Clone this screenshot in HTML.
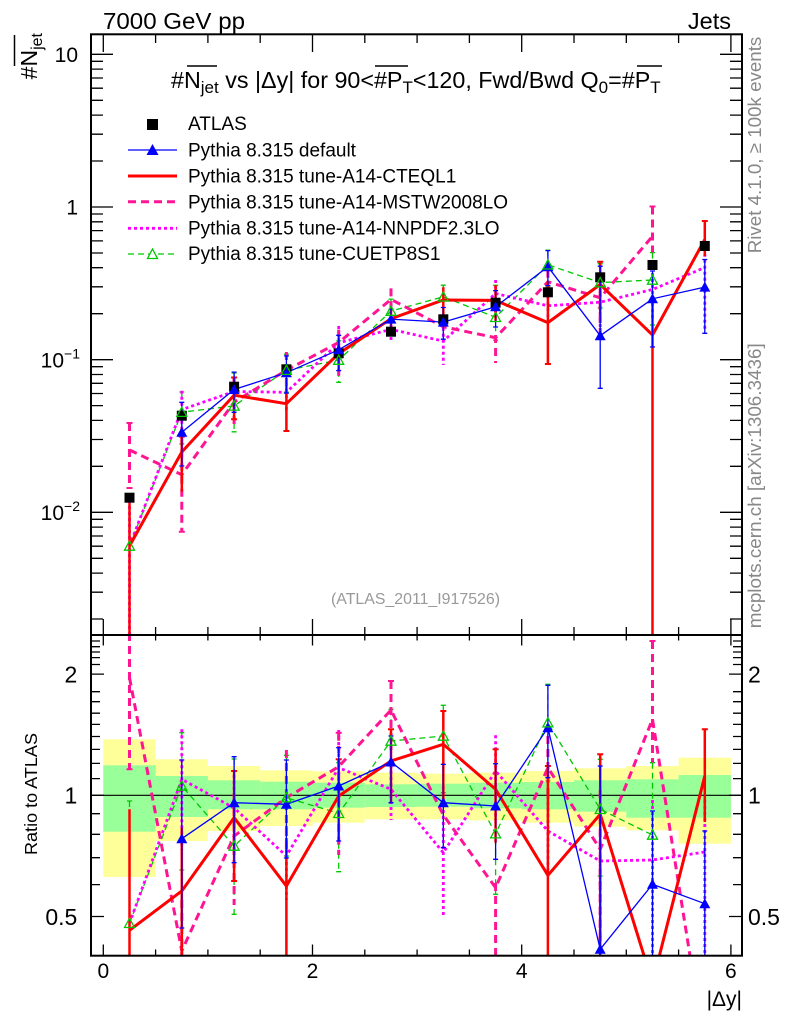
<!DOCTYPE html>
<html><head><meta charset="utf-8"><style>
html,body{margin:0;padding:0;background:#fff;}
svg{display:block;font-family:"Liberation Sans",Arial,sans-serif;}
</style></head><body>
<svg width="786" height="1024" viewBox="0 0 786 1024" xmlns="http://www.w3.org/2000/svg">
<defs>
<clipPath id="cm"><rect x="92" y="35" width="649" height="600"/></clipPath>
<clipPath id="cr"><rect x="92" y="635" width="649" height="320"/></clipPath>
<path id="tb" d="M-5.5,4.5 L5.5,4.5 L0,-5.5Z" fill="#0000ff"/>
<path id="tg" d="M-5,4.2 L5,4.2 L0,-5Z" fill="none" stroke="#00c800" stroke-width="1.3"/>
<rect id="sq" x="-5" y="-5" width="10" height="10" fill="#000"/>
</defs>
<rect width="786" height="1024" fill="#fff"/>

<!-- top texts -->
<text x="103" y="29" font-size="23.5" textLength="142" lengthAdjust="spacingAndGlyphs">7000 GeV pp</text>
<text x="731" y="29" font-size="23.5" text-anchor="end">Jets</text>

<!-- y label -->
<text transform="translate(37,33) rotate(-90)" text-anchor="end" font-size="23">#N<tspan font-size="16" dy="5">jet</tspan></text>
<line x1="14.5" y1="35" x2="14.5" y2="66" stroke="#000" stroke-width="1.5"/>

<!-- right side texts -->
<text transform="translate(761,253.3) rotate(-90)" font-size="18.5" fill="#888" textLength="216.6" lengthAdjust="spacingAndGlyphs">Rivet 4.1.0, ≥ 100k events</text>
<text transform="translate(761,628.3) rotate(-90)" font-size="18.5" fill="#888" textLength="285" lengthAdjust="spacingAndGlyphs">mcplots.cern.ch [arXiv:1306.3436]</text>

<!-- ratio bands -->
<g fill="#ffff99">
<rect x="103.3" y="739.3" width="52.3" height="137.7"/>
<rect x="155.6" y="759.3" width="52.3" height="81.7"/>
<rect x="207.9" y="766" width="52.3" height="65"/>
<rect x="260.2" y="770.3" width="52.3" height="55.7"/>
<rect x="312.5" y="771.3" width="52.3" height="51.4"/>
<rect x="364.8" y="772.7" width="52.3" height="46.6"/>
<rect x="417.1" y="773.7" width="52.3" height="45.6"/>
<rect x="469.4" y="772.7" width="52.3" height="47.6"/>
<rect x="521.7" y="771" width="52.3" height="51.7"/>
<rect x="574" y="768.3" width="52.3" height="58.4"/>
<rect x="626.3" y="766" width="52.3" height="64.3"/>
<rect x="678.6" y="757.7" width="52.3" height="86"/>
</g>
<g fill="#99ff99">
<rect x="103.3" y="765.3" width="52.3" height="66.4"/>
<rect x="155.6" y="776" width="52.3" height="41"/>
<rect x="207.9" y="780.3" width="52.3" height="29"/>
<rect x="260.2" y="781.7" width="52.3" height="27.6"/>
<rect x="312.5" y="782.7" width="52.3" height="25"/>
<rect x="364.8" y="784.3" width="52.3" height="22.7"/>
<rect x="417.1" y="783.7" width="52.3" height="23"/>
<rect x="469.4" y="782.7" width="52.3" height="25.6"/>
<rect x="521.7" y="782" width="52.3" height="27.3"/>
<rect x="574" y="780.3" width="52.3" height="31.4"/>
<rect x="626.3" y="779.3" width="52.3" height="38.4"/>
<rect x="678.6" y="775" width="52.3" height="42.7"/>
</g>
<line x1="92" y1="795.3" x2="741" y2="795.3" stroke="#000" stroke-width="1.2"/>

<!-- MAIN PANEL SERIES -->
<g clip-path="url(#cm)" fill="none">
<!-- green dashed -->
<g stroke="#00c800" stroke-width="1.3" stroke-dasharray="6,4">
<path d="M129.5,546 L181.8,412.2 L234.1,405.9 L286.4,370.2 L338.7,360.1 L391,311.1 L443.3,296.8 L495.6,317.3 L547.9,264.8 L600.2,282.6 L652.5,280"/>
<path d="M129.5,499.9V640 M179.3,392h5M181.8,392V444M179.3,444h5 M231.6,373h5M234.1,373V431.8M231.6,431.8h5 M283.9,354.1h5M286.4,354.1V392.3M283.9,392.3h5 M336.2,340.9h5M338.7,340.9V382.3M336.2,382.3h5 M388.5,299.1h5M391,299.1V334.5M388.5,334.5h5 M440.8,285.2h5M443.3,285.2V318.3M440.8,318.3h5 M493.1,285.3h5M495.6,285.3V340.2M493.1,340.2h5 M545.4,250.2h5M547.9,250.2V286.9M545.4,286.9h5 M597.7,263.7h5M600.2,263.7V307.9M597.7,307.9h5 M650,252.6h5M652.5,252.6V325M650,325h5"/>
</g>
<!-- magenta dotted -->
<g stroke="#ff00ff" stroke-width="2.8" stroke-dasharray="3,3">
<path d="M129.5,546 L181.8,409.6 L234.1,391.5 L286.4,392.3 L338.7,342.8 L391,329.4 L443.3,341.1 L495.6,293.5 L547.9,305.8 L600.2,302.2 L652.5,289.5 L704.8,267.5"/>
<path d="M129.5,500V640 M181.8,390.7V436.5 M234.1,377V403 M286.4,383V413 M338.7,326V355 M391,319V341 M443.3,315.8V365 M495.6,280V312 M547.9,290V320 M600.2,294V330 M652.5,267V320 M704.8,247.8V330"/>
</g>
<!-- pink dashed -->
<g stroke="#ff1493" stroke-width="3" stroke-dasharray="8,5">
<path d="M129.5,450 L181.8,474.7 L234.1,402.1 L286.4,370.2 L338.7,342.5 L391,299.4 L443.3,326.8 L495.6,337.7 L547.9,281.8 L600.2,297.8 L652.5,236.2"/>
<path d="M129.5,423V488 M181.8,436.7V531.7 M234.1,377V428 M286.4,352V390 M338.7,329.6V375.9 M391,288.4V314.5 M495.6,335V363 M547.9,269.8V294 M600.2,276V335 M652.5,206.5V252.6"/>
</g>
<g stroke="#ff1493" stroke-width="2">
<path d="M126.5,423h6M126.5,488h6 M178.8,436.7h6M178.8,531.7h6 M649.5,206.5h6"/>
</g>
<!-- red -->
<g stroke="#ff0000" stroke-width="3" stroke-linejoin="miter">
<path d="M129.5,546 L181.8,452 L234.1,395.2 L286.4,403.7 L338.7,353.6 L391,318.7 L443.3,300 L495.6,300.4 L547.9,322.6 L600.2,284.5 L652.5,335 L704.8,239.5"/>
</g>
<g stroke="#ff0000" stroke-width="2.5">
<path d="M129.5,503V640 M181.8,428V491.7 M234.1,377.5V419.2 M286.4,386V431 M338.7,339.7V370.6 M391,306.7V334.5 M443.3,287.3V322.7 M495.6,285.3V320.7 M547.9,281.2V364 M600.2,261.8V315 M652.5,300V640 M704.8,221V256.1"/>
<path stroke-width="2" d="M283.4,431h6 M544.9,364h6 M597.2,261.8h6 M701.8,221h6 M231.1,377.5h6 M231.1,419.2h6"/>
</g>
<!-- blue -->
<g stroke="#0000ff" stroke-width="1.3">
<path d="M181.8,432.2 L234.1,389.5 L286.4,372.7 L338.7,349.8 L391,319.1 L443.3,322.1 L495.6,306.8 L547.9,266.7 L600.2,335.7 L652.5,298.8 L704.8,287.1"/>
<path d="M179.3,402.3h5M181.8,402.3V466M179.3,466h5 M231.6,372.1h5M234.1,372.1V412.3M231.6,412.3h5 M283.9,355.9h5M286.4,355.9V393.1M283.9,393.1h5 M336.2,335.3h5M338.7,335.3V370.6M336.2,370.6h5 M388.5,309.2h5M391,309.2V334.5M388.5,334.5h5 M440.8,307.5h5M443.3,307.5V339.2M440.8,339.2h5 M493.1,290.7h5M495.6,290.7V327M493.1,327h5 M545.4,250.6h5M547.9,250.6V285.6M545.4,285.6h5 M597.7,266.2h5M600.2,266.2V388.3M597.7,388.3h5 M650,271h5M652.5,271V347M650,347h5 M702.3,259.5h5M704.8,259.5V333.3M702.3,333.3h5"/>
</g>
<!-- data squares -->
<use href="#sq" x="129.5" y="497.7"/><use href="#sq" x="181.8" y="415.7"/><use href="#sq" x="234.1" y="386.7"/><use href="#sq" x="286.4" y="369.3"/><use href="#sq" x="338.7" y="353.3"/><use href="#sq" x="391" y="331.7"/><use href="#sq" x="443.3" y="319.3"/><use href="#sq" x="495.6" y="302.7"/><use href="#sq" x="547.9" y="292.3"/><use href="#sq" x="600.2" y="277.3"/><use href="#sq" x="652.5" y="265"/><use href="#sq" x="704.8" y="246"/>
<!-- blue triangles -->
<use href="#tb" x="181.8" y="432.2"/><use href="#tb" x="234.1" y="389.5"/><use href="#tb" x="286.4" y="372.7"/><use href="#tb" x="338.7" y="349.8"/><use href="#tb" x="391" y="319.1"/><use href="#tb" x="443.3" y="322.1"/><use href="#tb" x="495.6" y="306.8"/><use href="#tb" x="547.9" y="266.7"/><use href="#tb" x="600.2" y="335.7"/><use href="#tb" x="652.5" y="298.8"/><use href="#tb" x="704.8" y="287.1"/>
<!-- green triangles -->
<use href="#tg" x="129.5" y="546"/><use href="#tg" x="181.8" y="412.2"/><use href="#tg" x="234.1" y="405.9"/><use href="#tg" x="286.4" y="370.2"/><use href="#tg" x="338.7" y="360.1"/><use href="#tg" x="391" y="311.1"/><use href="#tg" x="443.3" y="296.8"/><use href="#tg" x="495.6" y="317.3"/><use href="#tg" x="547.9" y="264.8"/><use href="#tg" x="600.2" y="282.6"/><use href="#tg" x="652.5" y="280"/>
</g>

<!-- RATIO PANEL SERIES -->
<g clip-path="url(#cr)" fill="none">
<g stroke="#00c800" stroke-width="1.3" stroke-dasharray="6,4">
<path d="M129.5,923.3 L181.8,786 L234.1,846 L286.4,797.7 L338.7,813.3 L391,741 L443.3,736 L495.6,833.7 L547.9,722.7 L600.2,809.3 L652.5,835"/>
<path d="M127,801h5M129.5,801V960 M179.3,732.7h5M181.8,732.7V870M179.3,870h5 M231.6,759h5M234.1,759V914.3M231.6,914.3h5 M283.9,755.3h5M286.4,755.3V856M283.9,856h5 M336.2,762.7h5M338.7,762.7V871.7M336.2,871.7h5 M388.5,709.3h5M391,709.3V802.7M388.5,802.7h5 M440.8,705.3h5M443.3,705.3V792.7M440.8,792.7h5 M493.1,749.3h5M495.6,749.3V894.3M493.1,894.3h5 M545.4,684.3h5M547.9,684.3V781M545.4,781h5 M597.7,759.3h5M600.2,759.3V876M597.7,876h5 M650,762.7h5M652.5,762.7V960"/>
</g>
<g stroke="#ff00ff" stroke-width="2.8" stroke-dasharray="3,3">
<path d="M129.5,923.3 L181.8,779.3 L234.1,808 L286.4,856 L338.7,767.7 L391,789.3 L443.3,852.7 L495.6,771 L547.9,831 L600.2,861 L652.5,860 L704.8,852"/>
<path d="M181.8,729.3V850 M234.1,775V840 M286.4,820V900 M338.7,730V800 M391,765V820 M443.3,786V916 M495.6,735.3V820 M547.9,790V870 M600.2,840V940 M652.5,800V960 M704.8,800V960"/>
</g>
<g stroke="#ff1493" stroke-width="3" stroke-dasharray="8,5">
<path d="M129.5,677.7 L181.8,951 L234.1,836 L286.4,797.7 L338.7,766.7 L391,710 L443.3,815 L495.6,887.7 L547.9,767.7 L600.2,849.3 L652.5,719.3 L704.8,1049"/>
<path d="M129.5,620V769.3 M181.8,900V960 M234.1,795V905 M286.4,750V850 M338.7,732.7V855 M391,681V750 M495.6,883V960 M547.9,736V800 M600.2,790V945 M652.5,641V762.7"/>
</g>
<g stroke="#ff1493" stroke-width="2">
<path d="M126.5,769.3h6 M649.5,641h6 M335.7,732.7h6 M388,681h6"/>
</g>
<g stroke="#ff0000" stroke-width="3">
<path d="M129.5,930.3 L181.8,891 L234.1,817.7 L286.4,886 L338.7,796 L391,761 L443.3,744.3 L495.6,789.3 L547.9,875.3 L600.2,814.3 L652.5,983 L704.8,776"/>
</g>
<g stroke="#ff0000" stroke-width="2.5">
<path d="M129.5,809.3V960 M181.8,827.7V960 M234.1,771V881 M286.4,839.3V960 M338.7,759.3V841 M391,729.3V802.7 M443.3,711V804.3 M495.6,749.3V842.7 M547.9,766V960 M600.2,754.3V960 M704.8,729.3V822"/>
<path stroke-width="2" d="M231.1,771h6 M231.1,881h6 M335.7,759.3h6 M388,729.3h6 M440.3,711h6 M492.6,749.3h6 M597.2,754.3h6 M701.8,729.3h6 M544.9,766h6"/>
</g>
<g stroke="#0000ff" stroke-width="1.3">
<path d="M181.8,838.7 L234.1,802.7 L286.4,804.3 L338.7,786 L391,762 L443.3,802.7 L495.6,806 L547.9,727.7 L600.2,949.3 L652.5,884.3 L704.8,903.7"/>
<path d="M179.3,760h5M181.8,760V928M179.3,928h5 M231.6,756.7h5M234.1,756.7V862.7M231.6,862.7h5 M283.9,760h5M286.4,760V858M283.9,858h5 M336.2,747.7h5M338.7,747.7V841M336.2,841h5 M388.5,736h5M391,736V802.7M388.5,802.7h5 M440.8,764.3h5M443.3,764.3V847.7M440.8,847.7h5 M493.1,763.7h5M495.6,763.7V859.3M493.1,859.3h5 M545.4,685.3h5M547.9,685.3V777.7M545.4,777.7h5 M597.7,766h5M600.2,766V960 M650,811h5M652.5,811V960 M702.3,831h5M704.8,831V960"/>
</g>
<use href="#tb" x="181.8" y="838.7"/><use href="#tb" x="234.1" y="802.7"/><use href="#tb" x="286.4" y="804.3"/><use href="#tb" x="338.7" y="786"/><use href="#tb" x="391" y="762"/><use href="#tb" x="443.3" y="802.7"/><use href="#tb" x="495.6" y="806"/><use href="#tb" x="547.9" y="727.7"/><use href="#tb" x="600.2" y="949.3"/><use href="#tb" x="652.5" y="884.3"/><use href="#tb" x="704.8" y="903.7"/>
<use href="#tg" x="129.5" y="923.3"/><use href="#tg" x="181.8" y="786"/><use href="#tg" x="234.1" y="846"/><use href="#tg" x="286.4" y="797.7"/><use href="#tg" x="338.7" y="813.3"/><use href="#tg" x="391" y="741"/><use href="#tg" x="443.3" y="736"/><use href="#tg" x="495.6" y="833.7"/><use href="#tg" x="547.9" y="722.7"/><use href="#tg" x="600.2" y="809.3"/><use href="#tg" x="652.5" y="835"/>
</g>

<!-- frames -->
<rect x="91" y="34.3" width="651" height="600.7" fill="none" stroke="#000" stroke-width="2"/>
<rect x="91" y="635" width="651" height="320.7" fill="none" stroke="#000" stroke-width="2"/>

<!-- main y ticks -->
<g stroke="#000" stroke-width="1.3">
<path d="M92,54.3h21 M92,207h21 M92,359.7h21 M92,512.3h21
M92,61.3h11 M92,69.1h11 M92,78h11 M92,88.2h11 M92,100.3h11 M92,115.1h11 M92,134.2h11 M92,161h11
M92,214h11 M92,221.8h11 M92,230.6h11 M92,240.9h11 M92,253h11 M92,267.7h11 M92,286.8h11 M92,313.7h11
M92,366.7h11 M92,374.5h11 M92,383.3h11 M92,393.5h11 M92,405.6h11 M92,420.4h11 M92,439.5h11 M92,466.3h11
M92,519.3h11 M92,527.1h11 M92,536h11 M92,546.2h11 M92,558.3h11 M92,573.1h11 M92,592.2h11 M92,619h11"/>
<path d="M741,54.3h-21 M741,207h-21 M741,359.7h-21 M741,512.3h-21
M741,61.3h-11 M741,69.1h-11 M741,78h-11 M741,88.2h-11 M741,100.3h-11 M741,115.1h-11 M741,134.2h-11 M741,161h-11
M741,214h-11 M741,221.8h-11 M741,230.6h-11 M741,240.9h-11 M741,253h-11 M741,267.7h-11 M741,286.8h-11 M741,313.7h-11
M741,366.7h-11 M741,374.5h-11 M741,383.3h-11 M741,393.5h-11 M741,405.6h-11 M741,420.4h-11 M741,439.5h-11 M741,466.3h-11
M741,519.3h-11 M741,527.1h-11 M741,536h-11 M741,546.2h-11 M741,558.3h-11 M741,573.1h-11 M741,592.2h-11 M741,619h-11"/>
<!-- ratio y ticks -->
<path d="M92,674.1h12 M92,795.3h12 M92,916.5h12
M92,641h8 M92,646.7h8 M92,652h8 M92,657.6h8 M92,664.5h8 M92,691.7h8 M92,701.7h8 M92,713.2h8 M92,724.4h8 M92,736.5h8 M92,749.4h8 M92,763.4h8 M92,778.6h8 M92,813.7h8 M92,834.3h8 M92,857.7h8 M92,884.6h8"/>
<path d="M741,674.1h-12 M741,795.3h-12 M741,916.5h-12
M741,641h-8 M741,646.7h-8 M741,652h-8 M741,657.6h-8 M741,664.5h-8 M741,691.7h-8 M741,701.7h-8 M741,713.2h-8 M741,724.4h-8 M741,736.5h-8 M741,749.4h-8 M741,763.4h-8 M741,778.6h-8 M741,813.7h-8 M741,834.3h-8 M741,857.7h-8 M741,884.6h-8"/>
<!-- x ticks main bottom / top -->
<path d="M103.3,635v-16 M312.5,635v-16 M521.7,635v-16 M730.9,635v-16
M155.6,635v-8 M207.9,635v-8 M260.2,635v-8 M364.8,635v-8 M417.1,635v-8 M469.4,635v-8 M574,635v-8 M626.3,635v-8 M678.6,635v-8"/>
<path d="M103.3,35v17 M312.5,35v17 M521.7,35v17 M730.9,35v17
M155.6,35v8 M207.9,35v8 M260.2,35v8 M364.8,35v8 M417.1,35v8 M469.4,35v8 M574,35v8 M626.3,35v8 M678.6,35v8"/>
<!-- x ticks ratio -->
<path d="M103.3,635v10.5 M312.5,635v10.5 M521.7,635v10.5 M730.9,635v10.5
M155.6,635v5.5 M207.9,635v5.5 M260.2,635v5.5 M364.8,635v5.5 M417.1,635v5.5 M469.4,635v5.5 M574,635v5.5 M626.3,635v5.5 M678.6,635v5.5"/>
<path d="M103.3,955v-10.5 M312.5,955v-10.5 M521.7,955v-10.5 M730.9,955v-10.5
M155.6,955v-5.5 M207.9,955v-5.5 M260.2,955v-5.5 M364.8,955v-5.5 M417.1,955v-5.5 M469.4,955v-5.5 M574,955v-5.5 M626.3,955v-5.5 M678.6,955v-5.5"/>
</g>

<!-- main y labels -->
<g font-size="21" text-anchor="end">
<text x="78" y="62">10</text>
<text x="78" y="214.5">1</text>
<text x="80" y="367.5">10<tspan font-size="14" dy="-9">−1</tspan></text>
<text x="80" y="520">10<tspan font-size="14" dy="-9">−2</tspan></text>
</g>
<!-- ratio labels -->
<g font-size="23" text-anchor="end">
<text x="77.3" y="682.5">2</text>
<text x="77.3" y="803.7">1</text>
<text x="77.3" y="924.9">0.5</text>
</g>
<g font-size="23">
<text x="748" y="682.5">2</text>
<text x="748" y="803.7">1</text>
<text x="748" y="924.9">0.5</text>
</g>
<text transform="translate(37,855) rotate(-90)" font-size="17.7" textLength="122" lengthAdjust="spacingAndGlyphs">Ratio to ATLAS</text>
<!-- x labels -->
<g font-size="21" text-anchor="middle">
<text x="103.3" y="978">0</text>
<text x="312.5" y="978">2</text>
<text x="521.7" y="978">4</text>
<text x="730.9" y="978">6</text>
</g>
<text x="742" y="1006" font-size="21" text-anchor="end">|Δy|</text>

<!-- title -->
<text x="171" y="88" font-size="23.3">#N<tspan font-size="17" dy="5">jet</tspan><tspan dy="-5"> vs |Δy| for 90&lt;#P</tspan><tspan font-size="17" dy="5">T</tspan><tspan dy="-5">&lt;120, Fwd/Bwd Q</tspan><tspan font-size="17" dy="5">0</tspan><tspan dy="-5">=#P</tspan><tspan font-size="17" dy="5">T</tspan></text>
<g stroke="#000" stroke-width="1.5">
<line x1="187" y1="66" x2="217" y2="66"/>
<line x1="375" y1="66" x2="408" y2="66"/>
<line x1="637" y1="66" x2="662" y2="66"/>
</g>

<!-- legend -->
<rect x="147" y="119" width="11" height="11" fill="#000"/>
<line x1="128" y1="150" x2="177" y2="150" stroke="#0000ff" stroke-width="1.3"/>
<path d="M146.5,155 L158.5,155 L152.5,144Z" fill="#0000ff"/>
<line x1="128" y1="176" x2="177" y2="176" stroke="#ff0000" stroke-width="3"/>
<line x1="128" y1="201.7" x2="177" y2="201.7" stroke="#ff1493" stroke-width="3" stroke-dasharray="8,5"/>
<line x1="128" y1="228.3" x2="177" y2="228.3" stroke="#ff00ff" stroke-width="2.8" stroke-dasharray="3,3"/>
<line x1="128" y1="254" x2="177" y2="254" stroke="#00c800" stroke-width="1.3" stroke-dasharray="6,4"/>
<path d="M147.5,258.5 L157.5,258.5 L152.5,249Z" fill="#fff" stroke="#00c800" stroke-width="1.3"/>
<g font-size="19">
<text x="188" y="130">ATLAS</text>
<text x="188" y="156.7">Pythia 8.315 default</text>
<text x="188" y="182.7">Pythia 8.315 tune-A14-CTEQL1</text>
<text x="188" y="208.3">Pythia 8.315 tune-A14-MSTW2008LO</text>
<text x="188" y="234.3">Pythia 8.315 tune-A14-NNPDF2.3LO</text>
<text x="188" y="260">Pythia 8.315 tune-CUETP8S1</text>
</g>

<text x="331" y="604" font-size="15.5" fill="#999" textLength="169" lengthAdjust="spacingAndGlyphs">(ATLAS_2011_I917526)</text>
</svg>
</body></html>
